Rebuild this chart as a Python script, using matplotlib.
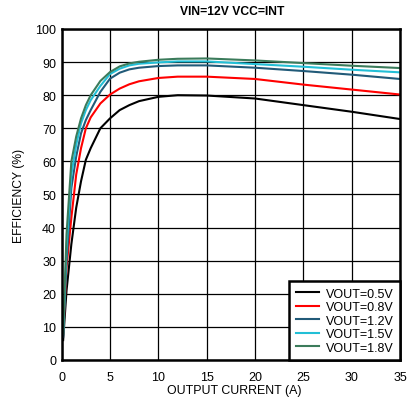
import matplotlib
matplotlib.use("Agg")
import matplotlib.pyplot as plt

plt.rcParams['font.family'] = ['Liberation Sans', 'DejaVu Sans']

current = [0.15, 0.5, 1, 1.5, 2, 2.5, 3, 4, 5, 6, 7, 8, 10, 12, 15, 20, 25, 30, 35]
eff_05 = [6, 21, 35, 46, 54, 60.5, 64, 70, 73, 75.5, 77, 78.2, 79.5, 80, 79.9, 79, 77, 75, 72.8]
eff_08 = [8, 28, 43, 56, 64, 70, 73.3, 77.5, 80.2, 82, 83.3, 84.2, 85.2, 85.6, 85.6, 84.9, 83.2, 81.7, 80.2]
eff_12 = [7, 30, 52, 61.5, 68.5, 72.5, 75.5, 81, 85, 86.8, 87.8, 88.3, 88.8, 89, 89, 88.3, 87.3, 86.2, 84.9]
eff_15 = [8, 34, 56, 65, 71.5, 75.5, 78.5, 82.8, 86.4, 88, 89, 89.5, 89.9, 90.2, 90.2, 89.4, 88.6, 87.7, 86.9]
eff_18 = [8, 38, 60, 67.5, 73, 77, 80, 84.3, 87, 88.7, 89.6, 90.1, 90.7, 91, 91.1, 90.5, 89.7, 88.9, 88.2]

labels = ["VOUT=0.5V", "VOUT=0.8V", "VOUT=1.2V", "VOUT=1.5V", "VOUT=1.8V"]
colors = ["#000000", "#ff0000", "#215a78", "#22bfd6", "#3b7b5b"]
series = [eff_05, eff_08, eff_12, eff_15, eff_18]

fig = plt.figure(figsize=(4.13, 4.02), dpi=100)
ax = fig.add_axes([0.1494, 0.102, 0.8191, 0.8234])

for y, c, l in zip(series, colors, labels):
    ax.plot(current, y, color=c, lw=1.5, label=l)

ax.set_xlim(0, 35)
ax.set_ylim(0, 100)
ax.set_xticks(range(0, 36, 5))
ax.set_yticks(range(0, 101, 10))
ax.grid(True, color="#000000", lw=0.9)
ax.set_axisbelow(True)
ax.tick_params(axis="x", length=0, labelsize=9, pad=8)
ax.tick_params(axis="y", length=0, labelsize=9, pad=4)
for s in ax.spines.values():
    s.set_linewidth(1.8)

ax.set_xlabel("OUTPUT CURRENT (A)", fontsize=8.9, labelpad=0.5, x=0.51)
ax.set_ylabel("EFFICIENCY (%)", fontsize=8.7, labelpad=7)
ax.set_title("VIN=12V VCC=INT", fontsize=8.7, fontweight="bold", pad=11, x=0.505)

leg = ax.legend(loc="lower right", fontsize=9, frameon=True, fancybox=False,
                borderaxespad=0.0, handlelength=1.87, labelspacing=0.12,
                borderpad=0.5, handletextpad=0.55)
leg.get_frame().set_edgecolor("black")
leg.get_frame().set_linewidth(1.8)
leg.get_frame().set_alpha(1)

fig.savefig("out.png", dpi=100)
